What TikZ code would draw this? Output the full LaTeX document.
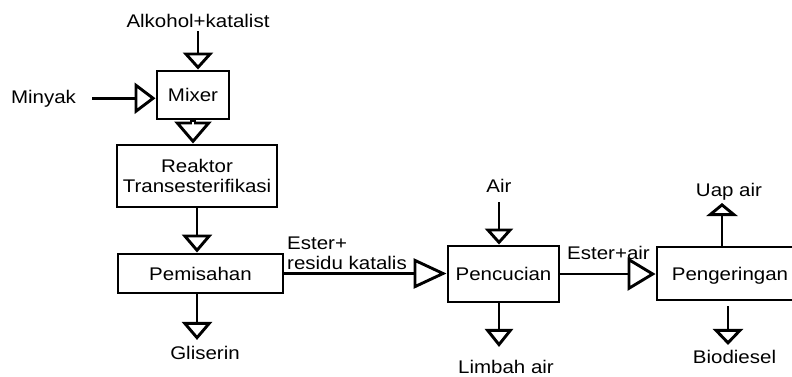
\documentclass[tikz,border=0pt]{standalone}
\usepackage{fontspec}
\setmainfont[FakeStretch=1.12]{Liberation Sans}
\usetikzlibrary{arrows.meta}
\tikzset{
  box/.style={draw, line width=2.9bp, inner sep=0pt, align=center},
  one/.style={text height=13.1bp, text depth=0bp},
  lbl/.style={inner sep=1bp},
  flow/.style 2 args={line width=2.9bp, -{Triangle[open, length=#1, width=#2, line width=2.9bp]}}
}
\begin{document}
\begin{tikzpicture}[x=1bp, y=-1bp, font=\fontsize{18.3bp}{20bp}\selectfont]
\useasboundingbox (0,0) rectangle (792,376);

% process boxes
\node[box, one, minimum width=72bp, minimum height=48bp] (mixer) at (193,95) {Mixer};
\node[box, minimum width=160bp, minimum height=62bp] (reaktor) at (197,176) {Reaktor\\Transesterifikasi};
\node[box, one, minimum width=165bp, minimum height=39bp] (pemisahan) at (200.5,273.5) {Pemisahan};
\node[box, one, minimum width=111bp, minimum height=56bp] (pencucian) at (503.5,274) {Pencucian};
\node[box, one, minimum width=146bp, minimum height=53bp] (pengeringan) at (730,273.5) {Pengeringan};

% labels
\node[lbl, anchor=base] (alk) at (198,27) {Alkohol+katalist};
\node[lbl, anchor=base] (minyak) at (43.5,103) {Minyak};
\node[lbl, anchor=base] (gliserin) at (205,359) {Gliserin};
\node[lbl, anchor=base] (air) at (499,192) {Air};
\node[lbl, anchor=base] (limbah) at (506,373) {Limbah air};
\node[lbl, anchor=base] (uap) at (729,196) {Uap air};
\node[lbl, anchor=base] (biodiesel) at (734.5,363) {Biodiesel};
\node[lbl, anchor=base] (esterair) at (608.5,259) {Ester+air};
\node[lbl, anchor=west, align=left] (esterres) at (286,253.3) {Ester+\\residu katalis};

\coordinate (ux) at (722,0);
\coordinate (bx) at (728,0);

% connectors
\draw[flow={17bp}{30bp}] ([yshift=-3bp]alk.south) -- (alk.south |- mixer.north);
\draw[flow={21bp}{31bp}] ([xshift=15bp]minyak.east) -- (mixer.west |- minyak.east);
\draw[line width=5.8bp, -{Triangle[open, length=22bp, width=37bp, line width=2.9bp]}]
  (mixer.south) -- (mixer.south |- reaktor.north);
\draw[white, line width=1.4bp] ([yshift=-1.7bp]mixer.south) -- ([yshift=-6.8bp]mixer.south);
\draw[flow={18bp}{30bp}] (reaktor.south) -- (reaktor.south |- pemisahan.north);
\draw[flow={18bp}{30bp}, shorten >=4.6bp] (pemisahan.south -| reaktor.south) -- (gliserin.north -| reaktor.south);
\draw[flow={33bp}{30bp}] (pemisahan.east) -- (pencucian.west |- pemisahan.east);
\draw[flow={16bp}{28bp}] ([yshift=-9bp]air.south) -- (air.south |- pencucian.north);
\draw[flow={18bp}{28bp}, shorten >=11.6bp] (pencucian.south -| air.south) -- (limbah.north -| air.south);
\draw[flow={28bp}{33bp}] (pencucian.east) -- (pengeringan.west |- pencucian.east);
\draw[flow={13bp}{31bp}, shorten >=2bp] (pengeringan.north -| ux) -- (uap.south -| ux);
\draw[flow={16bp}{30bp}, shorten <=5bp, shorten >=3.6bp] (pengeringan.south -| bx) -- (biodiesel.north -| bx);
\end{tikzpicture}
\end{document}
